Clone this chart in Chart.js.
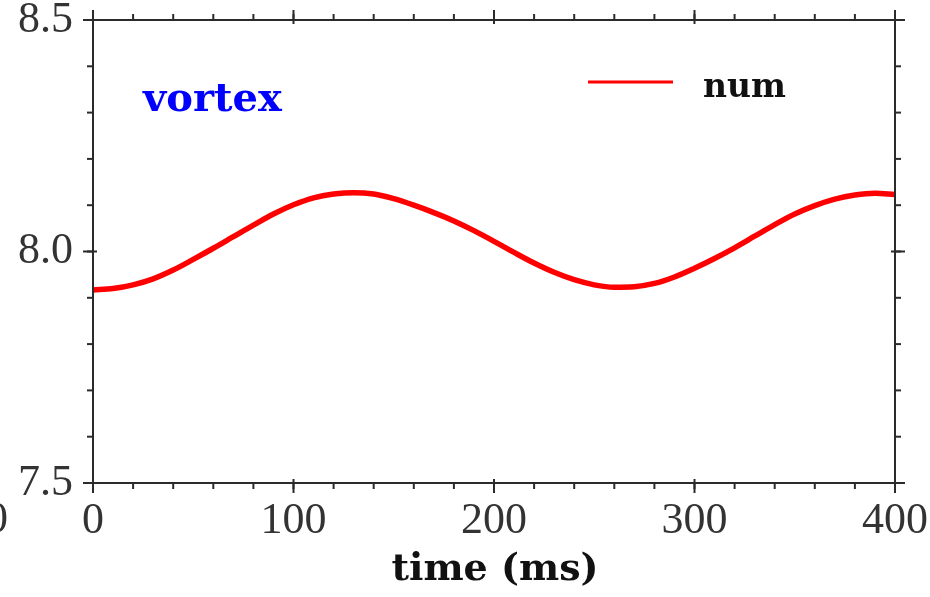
<!DOCTYPE html>
<html>
<head>
<meta charset="utf-8">
<script src="https://cdn.jsdelivr.net/npm/chart.js@4.4.1/dist/chart.umd.min.js"></script>
<style>
  html, body { margin: 0; padding: 0; background: #ffffff; }
  #wrap { width: 930px; height: 597px; position: relative; }
</style>
</head>
<body>
<div id="wrap"><canvas id="c" width="930" height="597"></canvas></div>
<script>
// ---- data ----
const timeMs = [0,10,20,30,40,50,60,70,80,90,100,110,120,130,140,150,160,170,180,190,200,
                210,220,230,240,250,260,270,280,290,300,310,320,330,340,350,360,370,380,390,400];
const numValues = [7.917,7.920,7.928,7.941,7.960,7.983,8.007,8.032,8.057,8.081,8.101,
                   8.116,8.124,8.127,8.124,8.114,8.100,8.084,8.066,8.045,8.022,
                   7.998,7.975,7.955,7.939,7.928,7.923,7.924,7.931,7.945,7.964,
                   7.985,8.008,8.033,8.058,8.081,8.099,8.113,8.122,8.126,8.123];
const xTickLabels = [0, 100, 200, 300, 400];
const yTickLabels = [7.5, 8.0, 8.5];
const xMinorStep = 20;
const yMinorStep = 0.1;
const seriesName = 'num';
const panelLabel = 'vortex';
const xTitle = 'time (ms)';

const AXIS_COLOR = '#2b2b2b';
const TICK_FONT = {family: "'Liberation Serif', serif", size: 44};

const framePlugin = {
  id: 'frame',
  afterDatasetsDraw(chart) {
    const ctx = chart.ctx;
    const a = chart.chartArea;
    const xs = chart.scales.x, ys = chart.scales.y;
    ctx.save();
    ctx.strokeStyle = AXIS_COLOR;
    ctx.lineWidth = 2;
    ctx.strokeRect(a.left, a.top, a.right - a.left, a.bottom - a.top);
    const line = (x1, y1, x2, y2) => { ctx.beginPath(); ctx.moveTo(x1, y1); ctx.lineTo(x2, y2); ctx.stroke(); };
    // minor ticks (outside)
    for (let v = xs.min; v <= xs.max + 1e-9; v += xMinorStep) {
      const px = xs.getPixelForValue(v);
      line(px, a.bottom, px, a.bottom + 6);
      line(px, a.top, px, a.top - 6);
    }
    for (let v = ys.min; v <= ys.max + 1e-9; v += yMinorStep) {
      const py = ys.getPixelForValue(v);
      line(a.left - 6, py, a.left, py);
      line(a.right, py, a.right + 6, py);
    }
    // major ticks (crossing)
    xTickLabels.forEach(v => {
      const px = xs.getPixelForValue(v);
      line(px, a.bottom - 4, px, a.bottom + 10);
      line(px, a.top + 4, px, a.top - 10);
    });
    yTickLabels.forEach(v => {
      const py = ys.getPixelForValue(v);
      line(a.left - 10, py, a.left + 4, py);
      line(a.right - 4, py, a.right + 10, py);
    });
    // legend
    const ds = chart.data.datasets[0];
    ctx.strokeStyle = ds.borderColor;
    ctx.lineWidth = 3;
    line(588, 82, 673, 82);
    ctx.fillStyle = '#111';
    ctx.font = "bold 33px 'DejaVu Serif', serif";
    ctx.textBaseline = 'alphabetic';
    ctx.textAlign = 'left';
    ctx.fillText(ds.label, 703, 97);
    // panel label
    ctx.fillStyle = '#0000ff';
    ctx.font = "bold 40px 'DejaVu Serif', serif";
    ctx.fillText(panelLabel, 143, 111);
    // x title
    ctx.fillStyle = '#111';
    ctx.font = "bold 38px 'DejaVu Serif', serif";
    ctx.textAlign = 'center';
    ctx.fillText(xTitle, (a.left + a.right) / 2 + 1, 580);
    // clipped label from neighbouring panel at left edge
    ctx.fillStyle = '#333';
    ctx.font = "44px 'Liberation Serif', serif";
    ctx.textAlign = 'right';
    ctx.textBaseline = 'middle';
    ctx.fillText('0', 8, 520);
    ctx.restore();
  }
};

new Chart(document.getElementById('c'), {
  type: 'line',
  data: {
    labels: timeMs,
    datasets: [{
      label: seriesName,
      data: timeMs.map((t, i) => ({x: t, y: numValues[i]})),
      borderColor: 'rgb(255,0,0)',
      borderWidth: 5.5,
      pointRadius: 0,
      tension: 0.4,
      cubicInterpolationMode: 'monotone',
      fill: false
    }]
  },
  options: {
    responsive: false,
    animation: false,
    devicePixelRatio: 1,
    layout: {padding: {top: 20, right: 35, left: 0, bottom: 0}},
    plugins: {legend: {display: false}, tooltip: {enabled: false}},
    scales: {
      x: {
        type: 'linear', min: 0, max: 400,
        afterBuildTicks: s => { s.ticks = xTickLabels.map(v => ({value: v})); },
        afterFit: s => { s.height = 114; s.paddingLeft = 0; s.paddingRight = 0; s.paddingTop = 0; s.paddingBottom = 0; },
        grid: {display: false, drawTicks: false},
        border: {display: false},
        ticks: {color: '#333', font: TICK_FONT, padding: 12, maxRotation: 0, autoSkip: false,
                callback: v => String(v)}
      },
      y: {
        type: 'linear', min: 7.5, max: 8.5,
        afterBuildTicks: s => { s.ticks = yTickLabels.map(v => ({value: v})); },
        afterFit: s => { s.width = 93; s.paddingLeft = 0; s.paddingRight = 0; s.paddingTop = 0; s.paddingBottom = 0; },
        grid: {display: false, drawTicks: false},
        border: {display: false},
        ticks: {color: '#333', font: TICK_FONT, padding: 20, autoSkip: false,
                callback: v => Number(v).toFixed(1)}
      }
    }
  },
  plugins: [framePlugin]
});
</script>
</body>
</html>
